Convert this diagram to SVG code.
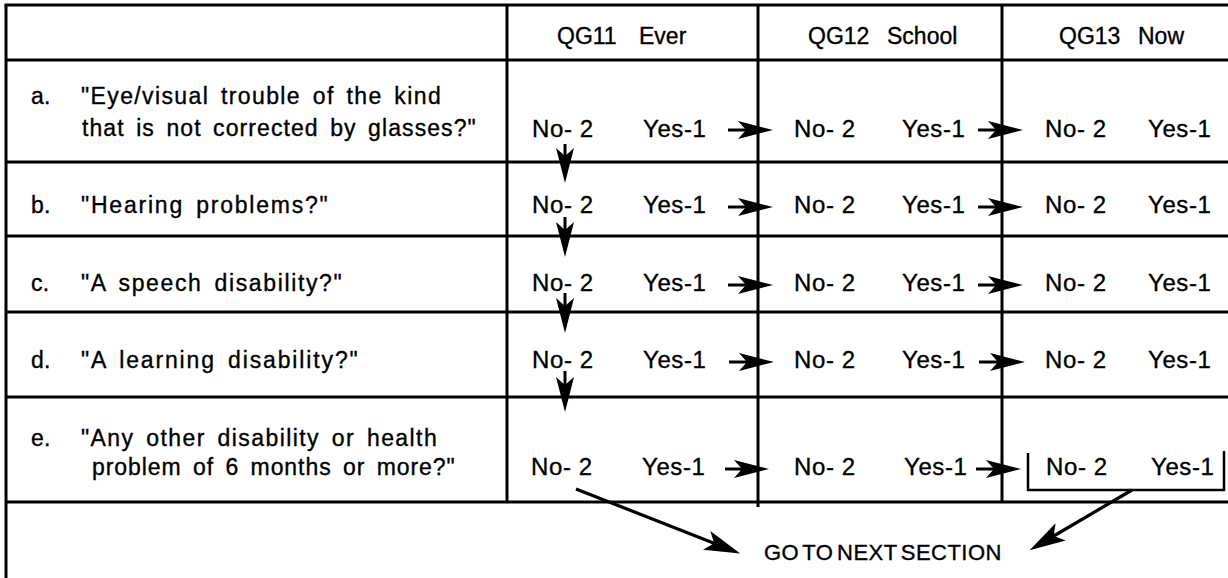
<svg xmlns="http://www.w3.org/2000/svg" width="1228" height="578" viewBox="0 0 1228 578">
<style>
text{font-family:"Liberation Sans",Arial,Helvetica,sans-serif;fill:#000;stroke:#000;stroke-width:0.35}
.hd{font-size:23px}
.q{font-size:23px;letter-spacing:0.3px;word-spacing:4px}
.ans{font-size:24px;letter-spacing:0.6px}
.go{font-size:22px;letter-spacing:-0.4px;word-spacing:-3px}
.grid{stroke:#000;stroke-width:3;fill:none}
.arr{stroke:#000;stroke-width:3;fill:none;marker-end:url(#head)}
.big{stroke:#000;stroke-width:3.2;fill:none;marker-end:url(#bighead)}
.brk{stroke:#000;stroke-width:2.5;fill:none}
</style>
<defs>
<marker id="head" markerUnits="userSpaceOnUse" viewBox="0 -10 38 20" refX="10" refY="0" markerWidth="38" markerHeight="20" orient="auto">
<path d="M0,-9 L35,0 L0,9 L8,0 Z" fill="#000"/>
</marker>
<marker id="bighead" markerUnits="userSpaceOnUse" viewBox="0 -12 40 24" refX="10" refY="0" markerWidth="40" markerHeight="24" orient="auto">
<path d="M0,-10 L36,0 L0,10 L8,0 Z" fill="#000"/>
</marker>
</defs>
<rect width="1228" height="578" fill="#fff"/>
<g id="grid" class="grid">
<path d="M4.5,5 H1228"/>
<path d="M6,5 V578"/>
<path d="M6,60 H1228 M6,162 H1228 M6,236 H1228 M6,312 H1228 M6,397 H1228 M6,502 H1228"/>
<path d="M507,5 V502 M758,5 V507 M1002,5 V502"/>
</g>
<g id="header">
<text class="hd" y="44"><tspan x="557">QG11 </tspan><tspan x="639">Ever</tspan></text>
<text class="hd" y="44"><tspan x="808">QG12 </tspan><tspan x="887">School</tspan></text>
<text class="hd" y="44"><tspan x="1059">QG13 </tspan><tspan x="1138">Now</tspan></text>
</g>
<g id="row-a">
<text class="q" x="31" y="104">a.</text>
<text class="q" x="81" y="104" textLength="360" lengthAdjust="spacing">"Eye/visual trouble of the kind</text>
<text class="q" x="82" y="136" textLength="394" lengthAdjust="spacing">that is not corrected by glasses?"</text>
<text class="ans" x="532" y="137">No- 2</text><text class="ans" x="643" y="137">Yes-1</text>
<text class="ans" x="794" y="137">No- 2</text><text class="ans" x="902" y="137">Yes-1</text>
<text class="ans" x="1045" y="137">No- 2</text><text class="ans" x="1148" y="137">Yes-1</text>
</g>
<g id="row-b">
<text class="q" x="31" y="213">b.</text>
<text class="q" x="81" y="213" textLength="247" lengthAdjust="spacing">"Hearing problems?"</text>
<text class="ans" x="532" y="213">No- 2</text><text class="ans" x="643" y="213">Yes-1</text>
<text class="ans" x="794" y="213">No- 2</text><text class="ans" x="902" y="213">Yes-1</text>
<text class="ans" x="1045" y="213">No- 2</text><text class="ans" x="1148" y="213">Yes-1</text>
</g>
<g id="row-c">
<text class="q" x="31" y="291">c.</text>
<text class="q" x="81" y="291" textLength="261" lengthAdjust="spacing">"A speech disability?"</text>
<text class="ans" x="532" y="291">No- 2</text><text class="ans" x="643" y="291">Yes-1</text>
<text class="ans" x="794" y="291">No- 2</text><text class="ans" x="902" y="291">Yes-1</text>
<text class="ans" x="1045" y="291">No- 2</text><text class="ans" x="1148" y="291">Yes-1</text>
</g>
<g id="row-d">
<text class="q" x="31" y="368">d.</text>
<text class="q" x="81" y="368" textLength="277" lengthAdjust="spacing">"A learning disability?"</text>
<text class="ans" x="532" y="368">No- 2</text><text class="ans" x="643" y="368">Yes-1</text>
<text class="ans" x="794" y="368">No- 2</text><text class="ans" x="902" y="368">Yes-1</text>
<text class="ans" x="1045" y="368">No- 2</text><text class="ans" x="1148" y="368">Yes-1</text>
</g>
<g id="row-e">
<text class="q" x="31" y="446">e.</text>
<text class="q" x="81" y="446" textLength="356" lengthAdjust="spacing">"Any other disability or health</text>
<text class="q" x="92" y="475" textLength="363" lengthAdjust="spacing">problem of 6 months or more?"</text>
<text class="ans" x="531" y="475">No- 2</text><text class="ans" x="642" y="475">Yes-1</text>
<text class="ans" x="794" y="475">No- 2</text><text class="ans" x="904" y="475">Yes-1</text>
<text class="ans" x="1046" y="475">No- 2</text><text class="ans" x="1151" y="475">Yes-1</text>
<path class="brk" d="M1028,453 V490 H1224 V451"/>
</g>
<g id="go-next">
<text class="go" x="764" y="560" textLength="237" lengthAdjust="spacing">GO TO NEXT SECTION</text>
</g>
<g id="connectors">
<path class="arr" d="M728,130 H748"/>
<path class="arr" d="M978,130 H998"/>
<path class="arr" d="M728,207 H748"/>
<path class="arr" d="M978,207 H998"/>
<path class="arr" d="M728,285 H748"/>
<path class="arr" d="M978,285 H998"/>
<path class="arr" d="M729,362 H749"/>
<path class="arr" d="M979,362 H1000"/>
<path class="arr" d="M725,469 H744"/>
<path class="arr" d="M976,469 H996"/>
<path class="arr" d="M565,144 V158"/>
<path class="arr" d="M565,217 V232"/>
<path class="arr" d="M565,293 V308"/>
<path class="arr" d="M565,371 V387"/>
<path class="big" d="M576,489 L716,544"/>
<path class="big" d="M1132,490 L1052,537"/>
</g>
</svg>
